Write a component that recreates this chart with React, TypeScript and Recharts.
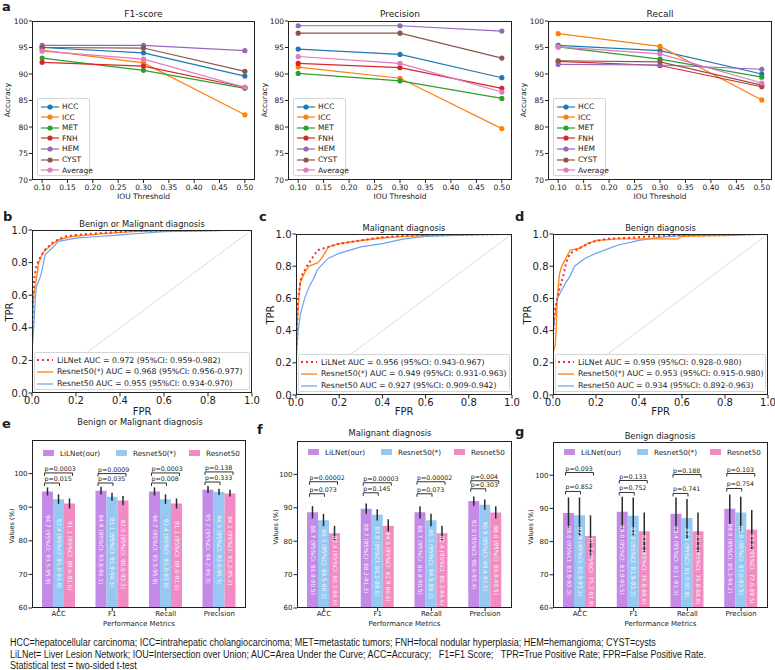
import React from "react";
import { Bar, ComposedChart, ErrorBar, LabelList, Line, LineChart, XAxis, YAxis } from "recharts";

const FONT = "'DejaVu Sans', sans-serif";
const INK = "#1a1a1a";

// ---------- a: accuracy vs IOU threshold ----------
const iouThresholds = [0.1, 0.3, 0.5];
const iouTicks = [0.1, 0.15, 0.2, 0.25, 0.3, 0.35, 0.4, 0.45, 0.5];
const accTicks = [70, 75, 80, 85, 90, 95, 100];
const lesionTypes = ["HCC", "ICC", "MET", "FNH", "HEM", "CYST", "Average"];
// one row per lesion type, values at IOU 0.1 / 0.3 / 0.5
const f1Scores = [
  [95.0, 94.0, 89.6],
  [94.5, 92.1, 82.3],
  [93.0, 90.7, 87.3],
  [92.2, 91.5, 87.5],
  [95.4, 95.4, 94.4],
  [95.0, 94.9, 90.5],
  [94.3, 92.8, 87.5],
];
const precisionScores = [
  [94.7, 93.7, 89.3],
  [91.3, 89.2, 79.7],
  [90.1, 88.7, 85.4],
  [92.0, 91.2, 87.3],
  [99.1, 99.1, 98.1],
  [97.7, 97.7, 93.0],
  [93.3, 92.0, 86.6],
];
const recallScores = [
  [95.4, 94.4, 90.0],
  [97.6, 95.2, 85.1],
  [95.1, 92.8, 89.4],
  [92.4, 91.6, 87.6],
  [91.8, 91.7, 90.9],
  [92.5, 92.3, 87.9],
  [95.1, 93.8, 88.3],
];
const lesionColors = ["#1f77b4", "#ff7f0e", "#2ca02c", "#d62728", "#9467bd", "#8c564b", "#e377c2"];

// ---------- b-d: ROC curves, [FPR, TPR] ----------
const rocTicks = [0, 0.2, 0.4, 0.6, 0.8, 1.0];
const rocModels = ["LiLNet", "Resnet50(*)", "Resnet50"];
const bmLiLNetRoc = [[0, 0], [0, 0.3], [0.005, 0.6], [0.01, 0.7], [0.02, 0.78], [0.04, 0.84], [0.06, 0.88], [0.1, 0.93], [0.15, 0.96], [0.2, 0.97], [0.3, 0.98], [0.4, 0.99], [0.5, 0.995], [0.9, 1], [1, 1]];
const bmResStarRoc = [[0, 0], [0, 0.35], [0.005, 0.55], [0.01, 0.62], [0.02, 0.7], [0.03, 0.8], [0.05, 0.86], [0.08, 0.9], [0.12, 0.94], [0.18, 0.96], [0.3, 0.975], [0.45, 0.99], [0.6, 0.995], [1, 1]];
const bmResRoc = [[0, 0], [0, 0.25], [0.01, 0.45], [0.015, 0.58], [0.02, 0.65], [0.04, 0.72], [0.06, 0.85], [0.1, 0.9], [0.12, 0.93], [0.2, 0.95], [0.3, 0.96], [0.4, 0.97], [0.5, 0.98], [0.6, 0.99], [1, 1]];
const malLiLNetRoc = [[0, 0], [0, 0.25], [0.005, 0.45], [0.01, 0.6], [0.02, 0.7], [0.03, 0.75], [0.05, 0.8], [0.08, 0.86], [0.1, 0.9], [0.15, 0.92], [0.2, 0.94], [0.3, 0.96], [0.4, 0.98], [0.5, 0.99], [0.6, 0.995], [1, 1]];
const malResStarRoc = [[0, 0], [0, 0.3], [0.01, 0.55], [0.02, 0.7], [0.04, 0.76], [0.06, 0.8], [0.1, 0.82], [0.12, 0.85], [0.15, 0.92], [0.2, 0.94], [0.3, 0.96], [0.4, 0.975], [0.5, 0.985], [0.7, 0.995], [1, 1]];
const malResRoc = [[0, 0], [0, 0.2], [0.01, 0.4], [0.02, 0.5], [0.04, 0.6], [0.06, 0.67], [0.08, 0.72], [0.1, 0.78], [0.15, 0.85], [0.2, 0.88], [0.3, 0.92], [0.4, 0.94], [0.5, 0.97], [0.6, 0.985], [0.8, 0.995], [1, 1]];
const benLiLNetRoc = [[0, 0], [0, 0.35], [0.005, 0.5], [0.02, 0.6], [0.03, 0.66], [0.05, 0.75], [0.06, 0.82], [0.08, 0.88], [0.12, 0.91], [0.18, 0.95], [0.25, 0.97], [0.4, 0.98], [0.5, 0.99], [0.7, 0.995], [1, 1]];
const benResStarRoc = [[0, 0], [0, 0.27], [0.01, 0.3], [0.015, 0.42], [0.02, 0.6], [0.03, 0.75], [0.04, 0.8], [0.06, 0.85], [0.08, 0.9], [0.12, 0.91], [0.16, 0.94], [0.2, 0.96], [0.3, 0.97], [0.58, 0.97], [0.6, 0.985], [0.8, 0.99], [1, 1]];
const benResRoc = [[0, 0], [0, 0.38], [0.01, 0.5], [0.02, 0.6], [0.04, 0.65], [0.06, 0.7], [0.08, 0.74], [0.1, 0.8], [0.15, 0.85], [0.2, 0.88], [0.3, 0.93], [0.4, 0.96], [0.5, 0.98], [0.6, 0.99], [1, 1]];
const bmAuc = ["0.972 (95%CI: 0.959-0.982)", "0.968 (95%CI: 0.956-0.977)", "0.955 (95%CI: 0.934-0.970)"];
const malAuc = ["0.956 (95%CI: 0.943-0.967)", "0.949 (95%CI: 0.931-0.963)", "0.927 (95%CI: 0.909-0.942)"];
const benAuc = ["0.959 (95%CI: 0.928-0.980)", "0.953 (95%CI: 0.915-0.980)", "0.934 (95%CI: 0.892-0.963)"];

// ---------- e-g: metric bars ----------
const metricNames = ["ACC", "F1", "Recall", "Precision"];
const barModels = ["LiLNet(our)", "Resnet50(*)", "Resnet50"];
const valueTicks = [60, 70, 80, 90, 100];

const bmLiLNet = [94.7, 94.9, 94.7, 95.2];
const bmLiLNetCI = [[93.5, 95.9], [93.8, 96.1], [93.5, 95.9], [94.2, 96.3]];
const bmResStar = [92.4, 93.1, 92.4, 94.5];
const bmResStarCI = [[91.0, 93.8], [91.9, 94.3], [91.0, 93.8], [93.6, 95.5]];
const bmRes = [91.1, 92.0, 91.1, 94.1];
const bmResCI = [[89.6, 92.6], [90.6, 93.3], [89.6, 92.6], [93.2, 95.2]];
const bmPvsRes = ["0.0003", "0.0009", "0.0003", "0.138"];
const bmPvsResStar = ["0.015", "0.035", "0.008", "0.333"];
const bmBracket = [[97.2, 100.2], [97.2, 100.0], [97.2, 100.2], [97.5, 100.5]];

const malLiLNet = [88.7, 89.7, 88.7, 92.0];
const malLiLNetCI = [[86.8, 90.5], [88.2, 91.3], [86.8, 90.5], [90.6, 93.4]];
const malResStar = [86.3, 87.9, 86.3, 90.9];
const malResStarCI = [[84.5, 88.2], [86.2, 89.6], [84.5, 88.2], [89.4, 92.5]];
const malRes = [82.4, 84.6, 82.4, 88.6];
const malResCI = [[80.3, 84.6], [82.9, 86.6], [80.3, 84.6], [86.8, 90.5]];
const malPvsRes = ["0.00002", "0.00003", "0.00002", "0.004"];
const malPvsResStar = ["0.073", "0.145", "0.073", "0.303"];
const malBracket = [[94.2, 97.8], [94.5, 97.5], [94.2, 97.8], [95.7, 98.1]];

const benLiLNet = [88.6, 89.0, 88.4, 89.9];
const benLiLNetCI = [[83.9, 93.3], [83.9, 93.5], [83.1, 93.3], [85.3, 94.2]];
const benResStar = [87.9, 87.8, 87.1, 88.8];
const benResStarCI = [[81.9, 93.3], [81.9, 93.3], [81.0, 92.8], [83.0, 93.5]];
const benRes = [81.7, 83.1, 83.1, 83.6];
const benResCI = [[75.2, 87.9], [76.8, 88.8], [76.8, 88.8], [77.6, 89.5]];
const benPvsRes = ["0.093", "0.133", "0.188", "0.103"];
const benPvsResStar = ["0.852", "0.752", "0.741", "0.754"];
const benBracket = [[95.1, 100.8], [94.8, 98.4], [94.5, 100.2], [96.0, 100.5]];

const barColors = ["#c48ae8", "#97c8f1", "#f08cc3"];

// ---------- helpers ----------
function Txt({ x, y, children, size = 8, anchor = "middle", rotate = false, bold = false, family = FONT }: any) {
  const tx = anchor === "middle" ? "-50%" : anchor === "end" ? "-100%" : "0";
  return (
    <div
      style={{
        position: "absolute",
        left: x,
        top: y,
        transform: `translate(${tx}, -50%)${rotate ? " rotate(-90deg)" : ""}`,
        whiteSpace: "nowrap",
        fontSize: size,
        fontWeight: bold ? 700 : 400,
        fontFamily: family,
        lineHeight: 1,
        color: INK,
      }}
    >
      {children}
    </div>
  );
}

function Frame({ x, y, w, h }: any) {
  return (
    <div
      style={{ position: "absolute", left: x, top: y, width: w, height: h, border: "1px solid #222", boxSizing: "border-box", pointerEvents: "none" }}
    />
  );
}

const tickStyle = (size: number) => ({ fontSize: size, fill: INK, fontFamily: FONT });

function IouPanel({ title, scores, left, width, yW, mRight, ylabelX }: any) {
  const rows = iouThresholds.map((t, i) => {
    const r: any = { iou: t };
    lesionTypes.forEach((name, k) => (r[name] = scores[k][i]));
    return r;
  });
  const plotL = left + yW;
  const plotR = left + width - mRight;
  const cx = (plotL + plotR) / 2;
  return (
    <>
      <div style={{ position: "absolute", left, top: 0 }}>
        <LineChart width={width} height={205} data={rows} margin={{ top: 21, right: mRight, left: 0, bottom: 0 }}>
          <XAxis
            dataKey="iou" type="number" domain={[0.08, 0.52]} ticks={iouTicks} allowDataOverflow
            tickFormatter={(v: number) => v.toFixed(2)} height={25} tickSize={3} tickMargin={2}
            axisLine={false} tickLine={{ stroke: "#222" }} tick={tickStyle(7.5)} interval={0}
          />
          <YAxis
            type="number" domain={[70, 100]} ticks={accTicks} width={yW} tickSize={3} tickMargin={1}
            axisLine={false} tickLine={{ stroke: "#222" }} tick={tickStyle(7.5)} interval={0}
          />
          {lesionTypes.map((name, k) => (
            <Line
              key={name} dataKey={name} type="linear" stroke={lesionColors[k]} strokeWidth={1.2}
              dot={{ r: 2.6, fill: lesionColors[k], stroke: lesionColors[k], strokeWidth: 0 }}
              isAnimationActive={false}
            />
          ))}
        </LineChart>
      </div>
      <Frame x={plotL} y={21} w={plotR - plotL} h={159} />
      <Txt x={cx} y={14} size={9}>{title}</Txt>
      <Txt x={cx} y={197} size={7.5}>IOU Threshold</Txt>
      <Txt x={ylabelX} y={100} size={7.5} rotate>Accuracy</Txt>
      <div
        style={{
          position: "absolute", left: plotL + 5, top: 98, width: 53, height: 78,
          border: "1px solid #d5d5d5", borderRadius: 2, background: "rgba(255,255,255,0.85)", boxSizing: "border-box",
        }}
      >
        {lesionTypes.map((name, k) => (
          <div key={name} style={{ position: "absolute", left: 3, top: 2.5 + k * 10.6, height: 10, display: "flex", alignItems: "center" }}>
            <svg width={18} height={8}>
              <line x1={0} y1={4} x2={18} y2={4} stroke={lesionColors[k]} strokeWidth={1.2} />
              <circle cx={9} cy={4} r={2.6} fill={lesionColors[k]} />
            </svg>
            <span style={{ marginLeft: 3, fontSize: 7.5, fontFamily: FONT, color: INK }}>{name}</span>
          </div>
        ))}
      </div>
    </>
  );
}

const rocStyles = [
  { stroke: "#ff2a2a", strokeWidth: 2, dash: "2 3" },
  { stroke: "#ff8a17", strokeWidth: 1.4, dash: undefined },
  { stroke: "#6aa2f0", strokeWidth: 1.2, dash: undefined },
];
const toPts = (arr: number[][]) => arr.map(([fpr, tpr]) => ({ fpr, tpr }));

function RocPanel({ left, top, width, height, yW, mTop, mRight, xH, curves, auc, title, letter, letterX, tprX }: any) {
  const plotL = left + yW;
  const plotR = left + width - mRight;
  const plotT = top + mTop;
  const plotB = top + height - xH;
  const cx = (plotL + plotR) / 2;
  const order = [2, 1, 0];
  return (
    <>
      <div style={{ position: "absolute", left, top }}>
        <LineChart width={width} height={height} margin={{ top: mTop, right: mRight, left: 0, bottom: 0 }}>
          <XAxis
            dataKey="fpr" type="number" domain={[0, 1]} ticks={rocTicks} allowDataOverflow height={xH}
            tickFormatter={(v: number) => v.toFixed(1)} tickSize={3.5} tickMargin={0} axisLine={false}
            tickLine={{ stroke: "#222" }} tick={tickStyle(10)} interval={0}
          />
          <YAxis
            type="number" domain={[0, 1]} ticks={rocTicks} width={yW} allowDataOverflow
            tickFormatter={(v: number) => v.toFixed(1)} tickSize={3.5} tickMargin={1} axisLine={false}
            tickLine={{ stroke: "#222" }} tick={tickStyle(10)} interval={0}
          />
          <Line
            data={toPts([[0, 0], [1, 1]])} dataKey="tpr" stroke="#9a9a9a" strokeWidth={0.6}
            strokeDasharray="1.5 1" dot={false} isAnimationActive={false}
          />
          {order.map((k) => (
            <Line
              key={rocModels[k]} data={toPts(curves[k])} dataKey="tpr" type="linear" stroke={rocStyles[k].stroke}
              strokeWidth={rocStyles[k].strokeWidth} strokeDasharray={rocStyles[k].dash} dot={false} isAnimationActive={false}
            />
          ))}
        </LineChart>
      </div>
      <Frame x={plotL} y={plotT} w={plotR - plotL} h={plotB - plotT} />
      <Txt x={cx} y={plotT - 6.5} size={8.3}>{title}</Txt>
      <Txt x={cx} y={412} size={10}>FPR</Txt>
      <Txt x={tprX} y={(plotT + plotB) / 2} size={10} rotate>TPR</Txt>
      <Txt x={letterX} y={216} size={13} bold anchor="start">{letter}</Txt>
      <div
        style={{
          position: "absolute", left: plotL + 2, top: plotB - 41, width: plotR - plotL - 4, height: 38,
          border: "1px solid #d5d5d5", borderRadius: 2, background: "rgba(255,255,255,0.85)", boxSizing: "border-box",
        }}
      >
        {rocModels.map((m, k) => (
          <div key={m} style={{ position: "absolute", left: 2, top: 1.5 + k * 11.8, height: 11, display: "flex", alignItems: "center", whiteSpace: "nowrap" }}>
            <svg width={16} height={6} style={{ flex: "none" }}>
              <line x1={0} y1={3} x2={16} y2={3} stroke={rocStyles[k].stroke} strokeWidth={rocStyles[k].strokeWidth} strokeDasharray={rocStyles[k].dash} />
            </svg>
            <span style={{ marginLeft: 4, fontSize: 7.8, fontFamily: FONT, color: INK, whiteSpace: "nowrap" }}>{`${m} AUC = ${auc[k]}`}</span>
          </div>
        ))}
      </div>
    </>
  );
}

const barKeys = ["lil", "star", "res"];

function buildBarRows(vals: number[][], cis: number[][][], pRes: string[], pStar: string[], levels: number[][]) {
  return metricNames.map((cat, i) => {
    const r: any = { cat, bracket: levels[i], pLong: pRes[i], pShort: pStar[i] };
    barKeys.forEach((key, k) => {
      const v = vals[k][i];
      const [lo, hi] = cis[k][i];
      r[key] = v;
      r[key + "Err"] = [v - lo, hi - v];
      r[key + "Text"] = `${v.toFixed(1)} (95%CI: ${lo.toFixed(1)}-${hi.toFixed(1)})`;
    });
    return r;
  });
}

// value text written downwards, centred in the bar
const RotText = (props: any) => {
  const vb = props.viewBox || props;
  const cx = vb.x + vb.width / 2;
  const cy = vb.y + vb.height / 2;
  return (
    <text x={cx} y={cy} transform={`rotate(90 ${cx} ${cy})`} fill="#fff" fillOpacity={0.92} fontSize={5.8} fontFamily={FONT} dominantBaseline="central" textAnchor="middle">
      {props.value}
    </text>
  );
};

const BracketShape = (props: any) => {
  const { x, y, width, height, payload } = props;
  const slot = width / 3;
  const x1 = x + slot * 0.5 - 3;
  const x2 = x + slot * 1.5 + 1;
  const x3 = x + slot * 2.5 + 3;
  const yl = y;
  const ys = y + height;
  return (
    <g>
      <path d={`M${x1},${yl + 3}V${yl}H${x3}V${yl + 3}`} stroke="#333" strokeWidth={1} fill="none" />
      <path d={`M${x1},${ys + 3}V${ys}H${x2}V${ys + 3}`} stroke="#333" strokeWidth={1} fill="none" />
      <text x={x1} y={yl - 2} fontSize={6.3} fontFamily={FONT} fill={INK}>{`p=${payload.pLong}`}</text>
      <text x={x1} y={ys - 2} fontSize={6.3} fontFamily={FONT} fill={INK}>{`p=${payload.pShort}`}</text>
    </g>
  );
};

function BarPanel({ left, width, yW, mTop, mRight, rows, title, titleX, titleY, letter, letterX, letterY, ylabelX, legendTop }: any) {
  const top = 400;
  const height = 230;
  const xH = 22;
  const plotL = left + yW;
  const plotR = left + width - mRight;
  const plotT = top + mTop;
  const plotB = top + height - xH;
  const cx = (plotL + plotR) / 2;
  return (
    <>
      <div style={{ position: "absolute", left, top }}>
        <ComposedChart width={width} height={height} data={rows} margin={{ top: mTop, right: mRight, left: 0, bottom: 0 }} barGap={0}>
          <XAxis
            dataKey="cat" height={xH} tickSize={3} tickMargin={0} axisLine={false}
            tickLine={{ stroke: "#222" }} tick={tickStyle(7)} interval={0}
          />
          <XAxis xAxisId="br" dataKey="cat" hide />
          <YAxis
            type="number" domain={[60, 110]} ticks={valueTicks} width={yW} tickSize={3.5} tickMargin={1}
            axisLine={false} tickLine={{ stroke: "#222" }} tick={tickStyle(7)} interval={0}
          />
          {barKeys.map((key, k) => (
            <Bar key={key} dataKey={key} fill={barColors[k]} barSize={11} isAnimationActive={false}>
              <ErrorBar dataKey={key + "Err"} width={0} stroke="#2a2a2a" strokeWidth={1.5} />
              <LabelList dataKey={key + "Text"} content={RotText} />
            </Bar>
          ))}
          <Bar xAxisId="br" dataKey="bracket" barSize={33} fill="none" shape={BracketShape} isAnimationActive={false} />
        </ComposedChart>
      </div>
      <Frame x={plotL} y={plotT} w={plotR - plotL} h={plotB - plotT} />
      <Txt x={titleX} y={titleY} size={8.3}>{title}</Txt>
      <Txt x={letterX} y={letterY} size={13} bold anchor="start">{letter}</Txt>
      <Txt x={cx} y={624} size={7}>Performance Metrics</Txt>
      <Txt x={ylabelX} y={(plotT + plotB) / 2 + 2} size={6.6} rotate>Values (%)</Txt>
      {barModels.map((m, k) => (
        <div key={m} style={{ position: "absolute", left: plotL + 11 + k * 73, top: legendTop, display: "flex", alignItems: "center", height: 10 }}>
          <div style={{ width: 11, height: 6, background: barColors[k] }} />
          <span style={{ marginLeft: 6, fontSize: 7.2, fontFamily: FONT, color: INK }}>{m}</span>
        </div>
      ))}
    </>
  );
}

export default function App() {
  const bmRows = buildBarRows([bmLiLNet, bmResStar, bmRes], [bmLiLNetCI, bmResStarCI, bmResCI], bmPvsRes, bmPvsResStar, bmBracket);
  const malRows = buildBarRows([malLiLNet, malResStar, malRes], [malLiLNetCI, malResStarCI, malResCI], malPvsRes, malPvsResStar, malBracket);
  const benRows = buildBarRows([benLiLNet, benResStar, benRes], [benLiLNetCI, benResStarCI, benResCI], benPvsRes, benPvsResStar, benBracket);
  const note = {
    position: "absolute" as const, left: 10, fontSize: 10, fontFamily: "'Liberation Sans', Arial, sans-serif", color: INK,
    whiteSpace: "pre" as const, lineHeight: 1, transform: "scaleX(0.9)", transformOrigin: "0 0",
  };
  return (
    <div style={{ position: "absolute", left: 0, top: 0, width: 775, height: 670, background: "#fff", overflow: "hidden", fontFamily: FONT }}>
      <Txt x={2} y={6} size={13} bold anchor="start">a</Txt>
      <IouPanel title="F1-score" scores={f1Scores} left={0} width={260} yW={32} mRight={5} ylabelX={8} />
      <IouPanel title="Precision" scores={precisionScores} left={255} width={260} yW={33} mRight={3} ylabelX={265} />
      <IouPanel title="Recall" scores={recallScores} left={510} width={265} yW={38} mRight={3} ylabelX={524} />

      <RocPanel left={0} top={200} width={262} height={220} yW={32} mTop={30} mRight={10} xH={27} tprX={10}
        curves={[bmLiLNetRoc, bmResStarRoc, bmResRoc]} auc={bmAuc} title="Benign or Malignant diagnosis" letter="b" letterX={3} />
      <RocPanel left={255} top={200} width={266} height={220} yW={41} mTop={34} mRight={9} xH={25} tprX={271}
        curves={[malLiLNetRoc, malResStarRoc, malResRoc]} auc={malAuc} title="Malignant diagnosis" letter="c" letterX={259} />
      <RocPanel left={510} top={200} width={265} height={220} yW={43} mTop={34} mRight={7} xH={25} tprX={528}
        curves={[benLiLNetRoc, benResStarRoc, benResRoc]} auc={benAuc} title="Benign diagnosis" letter="d" letterX={515} />

      <BarPanel left={0} width={255} yW={32} mTop={40} mRight={9} rows={bmRows} title="Benign or Malignant diagnosis"
        titleX={140} titleY={422} letter="e" letterX={2} letterY={423} ylabelX={12} legendTop={448} />
      <BarPanel left={255} width={262} yW={42} mTop={41} mRight={5} rows={malRows} title="Malignant diagnosis"
        titleX={390} titleY={433} letter="f" letterX={257} letterY={429} ylabelX={276} legendTop={447} />
      <BarPanel left={510} width={262} yW={43} mTop={42} mRight={4} rows={benRows} title="Benign diagnosis"
        titleX={660} titleY={436} letter="g" letterX={515} letterY={431} ylabelX={531} legendTop={447} />

      <div style={{ ...note, top: 638 }}>HCC=hepatocellular carcinoma; ICC=intrahepatic cholangiocarcinoma; MET=metastatic tumors; FNH=focal nodular hyperplasia; HEM=hemangioma; CYST=cysts</div>
      <div style={{ ...note, top: 650 }}>{"LiLNet= Liver Lesion Network; IOU=Intersection over Union; AUC=Area Under the Curve; ACC=Accuracy;   F1=F1 Score;   TPR=True Positive Rate; FPR=False Positive Rate."}</div>
      <div style={{ ...note, top: 661 }}>Statistical test = two-sided t-test</div>
    </div>
  );
}
